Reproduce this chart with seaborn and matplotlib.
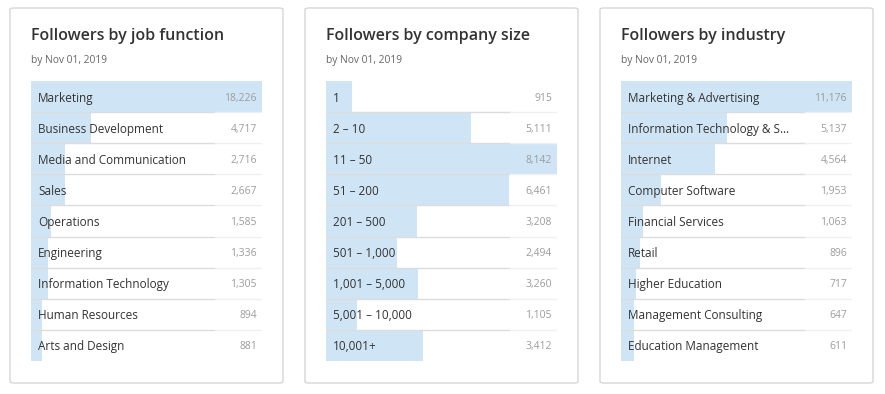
import matplotlib
matplotlib.use("Agg")
import matplotlib.pyplot as plt
import matplotlib.patches as mpatches
import matplotlib.transforms as mtransforms
import seaborn as sns
import pandas as pd

# datos de cada tarjeta
funciones = ["Marketing", "Business Development", "Media and Communication", "Sales",
             "Operations", "Engineering", "Information Technology", "Human Resources",
             "Arts and Design"]
seguidores_funcion = [18226, 4717, 2716, 2667, 1585, 1336, 1305, 894, 881]

tamanos = ["1", "2 – 10", "11 – 50", "51 – 200", "201 – 500", "501 – 1,000",
           "1,001 – 5,000", "5,001 – 10,000", "10,001+"]
seguidores_tamano = [915, 5111, 8142, 6461, 3208, 2494, 3260, 1105, 3412]

industrias = ["Marketing & Advertising", "Information Technology & S…", "Internet",
              "Computer Software", "Financial Services", "Retail", "Higher Education",
              "Management Consulting", "Education Management"]
seguidores_industria = [11176, 5137, 4564, 1953, 1063, 896, 717, 647, 611]

titulos = ["Followers by job function", "Followers by company size", "Followers by industry"]
subtitulo = "by Nov 01, 2019"

sns.set_style("white")
plt.rcParams['font.family'] = ['Open Sans', 'DejaVu Sans']

W, H = 885, 394
fig = plt.figure(figsize=(W / 100, H / 100), dpi=100)
fig.patch.set_facecolor("white")


def dibujar_tarjeta(izq, titulo, categorias, valores):
    """Dibuja una tarjeta con titulo, subtitulo y barras horizontales."""
    tarjeta = mpatches.FancyBboxPatch((izq / W, 1 - 383 / H), 273 / W, 375 / H,
                                      boxstyle="round,pad=0,rounding_size=0.004",
                                      transform=fig.transFigure, facecolor="white",
                                      edgecolor="#d6d6d6", linewidth=1, zorder=0)
    fig.add_artist(tarjeta)
    fig.text((izq + 21) / W, 1 - 36.5 / H, titulo, va="center", ha="left",
             fontsize=11.5, fontweight="semibold", color="#333333")
    fig.text((izq + 21) / W, 1 - 60.5 / H, subtitulo, va="center", ha="left",
             fontsize=7.4, color="#666666")

    ax = fig.add_axes([(izq + 21) / W, 1 - 361 / H, 231 / W, 280 / H])
    df = pd.DataFrame({"categoria": categorias, "valor": valores})
    sns.barplot(data=df, x="valor", y="categoria", orient="h", color="#cfe5f5",
                saturation=1, width=1.0, linewidth=0, ax=ax)
    ax.set_xlim(0, max(valores))
    ax.set_ylim(len(categorias) - 0.5, -0.5)
    ax.axis("off")

    tr = ax.get_yaxis_transform()
    tr_txt = mtransforms.offset_copy(tr, fig=fig, y=-1.5, units="dots")
    # lineas separadoras entre filas
    for k in range(1, len(categorias)):
        ax.plot([0, 184 / 231], [k - 0.5, k - 0.5], transform=tr, color="#dcdcdc", lw=1)
        ax.plot([184 / 231, 1], [k - 0.5, k - 0.5], transform=tr, color="#f0f0f0", lw=1)

    for i, (cat, val) in enumerate(zip(categorias, valores)):
        ax.text(7 / 231, i, cat, transform=tr_txt, va="center", ha="left",
                fontsize=8.5, color="#333333")
        ax.text(226 / 231, i, f"{val:,}", transform=tr_txt, va="center", ha="right",
                fontsize=7.5, color="#9c9c9c")


dibujar_tarjeta(10, titulos[0], funciones, seguidores_funcion)
dibujar_tarjeta(305, titulos[1], tamanos, seguidores_tamano)
dibujar_tarjeta(600, titulos[2], industrias, seguidores_industria)

fig.savefig("out.png", dpi=100, facecolor="white")
